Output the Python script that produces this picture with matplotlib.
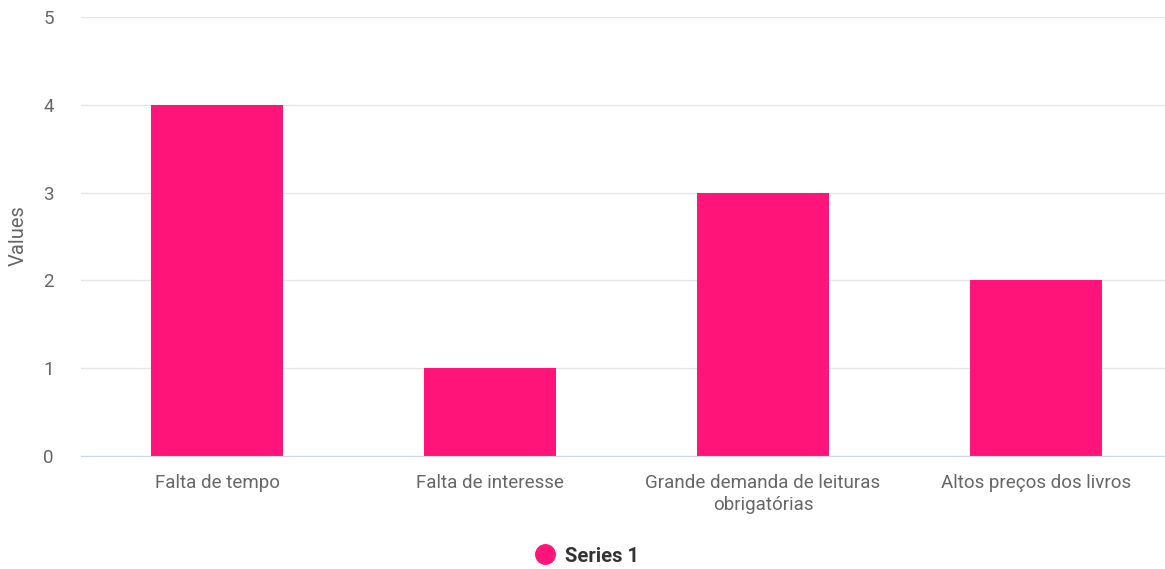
import matplotlib.pyplot as plt
from matplotlib.lines import Line2D

categories = ['Falta de tempo', 'Falta de interesse',
              'Grande demanda de leituras\nobrigatórias', 'Altos preços dos livros']
values = [4, 1, 3, 2]
series_name = 'Series 1'

plt.rcParams['font.family'] = ['Roboto', 'DejaVu Sans']

fig = plt.figure(figsize=(11.65, 5.69), dpi=100)
ax = fig.add_axes([81 / 1165, 1 - 456 / 569, 1091 / 1165, (456 - 17) / 569])

x = range(len(categories))
ax.bar(x, values, width=0.484, color='#ff1479', zorder=2)

ax.set_xlim(-0.5, 3.5)
ax.set_ylim(0, 5)
ax.set_yticks(range(6))
ax.grid(axis='y', color='#e6e6e6', linewidth=1, zorder=0)
for s in ['top', 'right', 'left']:
    ax.spines[s].set_visible(False)
ax.spines['bottom'].set_color('#ccd6eb')
ax.spines['bottom'].set_zorder(3)

ax.set_xticks(list(x))
ax.set_xticklabels(categories, fontsize=13.5, color='#666666', linespacing=1.3)
ax.tick_params(axis='x', length=0, pad=13)
ax.tick_params(axis='y', length=0, pad=27, labelsize=13.5, labelcolor='#666666')
for lab in ax.get_yticklabels():
    lab.set_horizontalalignment('left')

fig.text(18 / 1165, 1 - 236 / 569, 'Values', rotation=90, ha='center', va='center',
         fontsize=14.5, color='#666666')

handle = Line2D([], [], marker='o', linestyle='none', markersize=14,
                markerfacecolor='#ff1479', markeredgecolor='#ff1479')
leg = fig.legend([handle], [series_name], loc='center', bbox_to_anchor=(582 / 1165, 1 - 556 / 569),
                 frameon=False, handletextpad=0.0, prop={'weight': 'bold', 'size': 14.5})
for t in leg.get_texts():
    t.set_color('#333333')

fig.savefig('out.png', dpi=100)
